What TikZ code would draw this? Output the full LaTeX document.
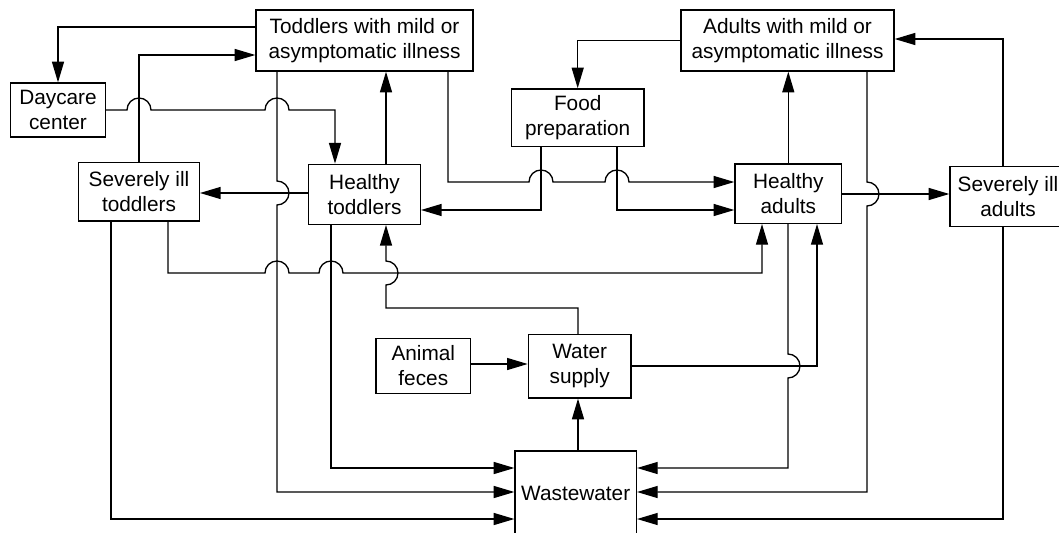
\documentclass[tikz,border=0pt]{standalone}
\usepackage{fontspec}
\setmainfont{Liberation Sans}
\usetikzlibrary{arrows.meta}
\begin{document}
\begin{tikzpicture}[x=0.75pt,y=-0.75pt,
  box/.style={draw, line width=1pt, align=center, inner sep=0pt,
    font=\fontsize{15.6}{18.75}\selectfont},
  arr/.style={draw, line width=1pt, -{Triangle[length=15.5pt,width=9pt]}},
]
\useasboundingbox (0,0) rectangle (1059,532);
\clip (0,0) rectangle (1059,532);

% nodes
\node[box, minimum width=162.75pt, minimum height=45.75pt] (TM) at (364.5,40.5) {Toddlers with mild or\\asymptomatic illness};
\node[box, minimum width=159.75pt, minimum height=45.75pt] (AM) at (787.5,40.5) {Adults with mild or\\asymptomatic illness};
\node[box, minimum width=70.95pt, minimum height=40.5pt] (DC) at (58,110) {Daycare\\center};
\node[box, minimum width=99.5pt, minimum height=43.3pt] (FP) at (577.7,117.8) {Food\\preparation};
\node[box, minimum width=90.45pt, minimum height=44pt] (ST) at (139,191.7) {Severely ill\\toddlers};
\node[box, minimum width=83.7pt, minimum height=45pt] (HT) at (364.5,194.3) {Healthy\\toddlers};
\node[box, minimum width=80pt, minimum height=44.5pt] (HA) at (788.3,193.7) {Healthy\\adults};
\node[box, minimum width=87pt, minimum height=45pt] (SA) at (1008,196.7) {Severely ill\\adults};
\node[box, minimum width=71pt, minimum height=41.25pt] (AF) at (423.3,365.8) {Animal\\feces};
\node[box, minimum width=77pt, minimum height=47.5pt] (WS) at (579.7,366.3) {Water\\supply};
\node[box, minimum width=91pt, minimum height=63pt] (WW) at (575.7,493) {Wastewater};

% connectors
\draw[arr] (TM.west |- 0,27) -| (DC.north);
\draw[arr] (ST.north) |- (TM.west |- 0,55);
\draw[arr] (DC.east) -- (127,110) arc[start angle=180,end angle=0,radius=9pt]
  -- (265,110) arc[start angle=180,end angle=0,radius=9pt]
  -- (335,110) -- (HT.north -| 335,0);
\draw[arr] (TM.south -| 277,0) -- (277,181) arc[start angle=90,end angle=-90,radius=9pt]
  -- (277,492) -- (WW.west |- 0,492);
\draw[arr] (HT.west |- 0,193) -- (ST.east |- 0,193);
\draw[arr] (HT.north -| 386,0) -- (TM.south -| 386,0);
\draw[arr] (HT.south -| 331,0) -- (331,468) -- (WW.west |- 0,468);
\draw[arr] (WS.north -| 578,0) -- (578,308) -- (386,308) -- (386,285)
  arc[start angle=-90,end angle=90,radius=9pt] -- (HT.south -| 386,0);
\draw[arr] (ST.south -| 111,0) -- (111,519) -- (WW.west |- 0,519);
\draw[arr] (ST.south -| 168,0) -- (168,273) -- (265,273) arc[start angle=180,end angle=0,radius=9pt]
  -- (319,273) arc[start angle=180,end angle=0,radius=9pt]
  -- (762,273) -- (HA.south -| 762,0);
\draw[arr] (TM.south -| 448,0) -- (448,182) -- (529,182) arc[start angle=180,end angle=0,radius=9pt]
  -- (605,182) arc[start angle=180,end angle=0,radius=9pt] -- (HA.west |- 0,182);
\draw[arr] (FP.south -| 541,0) -- (541,210) -- (HT.east |- 0,210);
\draw[arr] (FP.south -| 617,0) -- (617,210) -- (HA.west |- 0,210);
\draw[arr] (AM.west) -| (FP.north);
\draw[arr] (HA.north) -- (AM.south -| HA.north);
\draw[arr] (HA.east |- 0,194) -- (SA.west |- 0,194);
\draw[arr] (AM.south -| 867,0) -- (867,182) arc[start angle=90,end angle=-90,radius=9pt]
  -- (867,492) -- (WW.east |- 0,492);
\draw[arr] (SA.north -| 1003,0) -- (1003,39) -- (AM.east |- 0,39);
\draw[arr] (SA.south -| 1003,0) -- (1003,519) -- (WW.east |- 0,519);
\draw[arr] (HA.south -| 788,0) -- (788,354) arc[start angle=90,end angle=-90,radius=9pt]
  -- (788,468) -- (WW.east |- 0,468);
\draw[arr] (WS.east |- 0,366) -- (817,366) -- (HA.south -| 817,0);
\draw[arr] (AF.east |- 0,364) -- (WS.west |- 0,364);
\draw[arr] (WW.north -| 578,0) -- (WS.south -| 578,0);
\end{tikzpicture}
\end{document}
